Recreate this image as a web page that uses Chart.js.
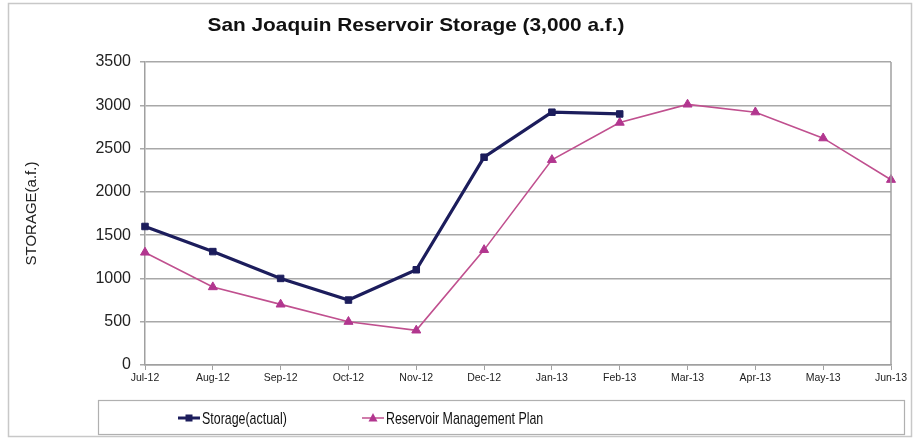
<!DOCTYPE html>
<html><head><meta charset="utf-8">
<script src="https://cdn.jsdelivr.net/npm/chart.js@4/dist/chart.umd.min.js"></script>
<style>html,body{margin:0;padding:0;background:#fff;}#wrap{width:913px;height:439px;position:relative;}</style>
</head><body><div id="wrap"><canvas id="c" width="913" height="439"></canvas></div>
<script>
const months = ["Jul-12","Aug-12","Sep-12","Oct-12","Nov-12","Dec-12","Jan-13","Feb-13","Mar-13","Apr-13","May-13","Jun-13"];
const storageActual = [1600,1310,1000,750,1100,2400,2920,2900,null,null,null,null];
const managementPlan = [1300,900,700,500,400,1330,2370,2800,3010,2920,2620,2140];
const yTicks = [0,500,1000,1500,2000,2500,3000,3500];
const chartTitle = "San Joaquin Reservoir Storage (3,000 a.f.)";
const yTitle = "STORAGE(a.f.)";
const seriesNames = ["Storage(actual)","Reservoir Management Plan"];

const NAVY = "#1c1d5c", PINK = "#b2368f", PINKLINE = "#c0508f";
const SANS = '"Liberation Sans", Arial, sans-serif';

const frame = {
  id:'frame',
  beforeDraw(chart){
    const ctx=chart.ctx; ctx.save();
    ctx.fillStyle='#fff'; ctx.fillRect(0,0,chart.width,chart.height);
    ctx.strokeStyle='#c8c8c8'; ctx.lineWidth=1.5;
    ctx.strokeRect(8.5,3.5,903,433);
    ctx.restore();
  },
  afterDraw(chart){
    const ctx=chart.ctx, a=chart.chartArea; ctx.save();
    ctx.strokeStyle='#a0a0a0'; ctx.lineWidth=1.5;
    ctx.beginPath(); ctx.moveTo(a.right,a.top); ctx.lineTo(a.right,a.bottom); ctx.stroke();
    // title
    ctx.font='bold 19px '+SANS; ctx.fillStyle='#111'; ctx.textBaseline='middle'; ctx.textAlign='center';
    const w=ctx.measureText(chartTitle).width, target=417;
    ctx.save(); ctx.translate(416,26); ctx.scale(target/w,1); ctx.fillText(chartTitle,0,0); ctx.restore();
    ctx.textAlign='left';
    // legend box
    ctx.strokeStyle='#b0b0b0'; ctx.lineWidth=1.2;
    ctx.strokeRect(98.5,400.5,806,34);
    const y=418;
    const items=[{x:178,color:NAVY,lw:3,marker:'sq',label:seriesNames[0]},{x:362,color:PINKLINE,lw:1.5,marker:'tri',label:seriesNames[1]}];
    ctx.font='17px '+SANS;
    items.forEach(it=>{
      ctx.strokeStyle=it.color; ctx.lineWidth=it.lw;
      ctx.beginPath(); ctx.moveTo(it.x,y); ctx.lineTo(it.x+22,y); ctx.stroke();
      const cx=it.x+11;
      if(it.marker==='sq'){ctx.fillStyle=NAVY; ctx.fillRect(cx-3.5,y-3.5,7,7);}
      else {ctx.fillStyle=PINK; ctx.beginPath(); ctx.moveTo(cx,y-5); ctx.lineTo(cx+4.5,y+3.5); ctx.lineTo(cx-4.5,y+3.5); ctx.closePath(); ctx.fill();}
      ctx.fillStyle='#111';
      ctx.save(); ctx.translate(it.x+24,y+1); ctx.scale(0.73,1); ctx.fillText(it.label,0,0); ctx.restore();
    });
    ctx.restore();
  }
};

new Chart(document.getElementById('c'),{
  type:'line',
  data:{labels:months,datasets:[
    {label:seriesNames[0],data:storageActual,borderColor:NAVY,backgroundColor:NAVY,borderWidth:3.2,pointStyle:'rect',pointRadius:4.6,pointBorderWidth:1,pointBackgroundColor:NAVY,tension:0,spanGaps:false},
    {label:seriesNames[1],data:managementPlan,borderColor:PINKLINE,backgroundColor:PINK,borderWidth:1.6,pointStyle:'triangle',pointRadius:5.2,pointBorderWidth:1,pointBackgroundColor:PINK,pointBorderColor:PINK,tension:0}
  ]},
  options:{
    responsive:false,animation:false,
    layout:{padding:{left:18,right:22,top:62,bottom:54}},
    plugins:{legend:{display:false},tooltip:{enabled:false},title:{display:false}},
    scales:{
      x:{offset:false,
        grid:{display:true,drawOnChartArea:false,tickLength:5,color:'#a0a0a0'},
        border:{display:true,color:'#a0a0a0',width:1.5},
        ticks:{color:'#222',font:{family:SANS,size:10.5},maxRotation:0,autoSkip:false,padding:2},
        afterFit(s){s.height=20;}
      },
      y:{min:0,max:3500,
        afterBuildTicks(s){s.ticks=yTicks.map(v=>({value:v}));},
        grid:{color:'#a8a8a8',lineWidth:1.5,tickLength:5},
        border:{display:true,color:'#a0a0a0',width:1.5},
        ticks:{color:'#222',font:{family:SANS,size:16},padding:9,callback:v=>String(v)},
        title:{display:true,text:yTitle,color:'#222',font:{family:SANS,size:15},padding:{top:5,bottom:0}},
        afterFit(s){s.width=127;}
      }
    }
  },
  plugins:[frame]
});
</script></body></html>
